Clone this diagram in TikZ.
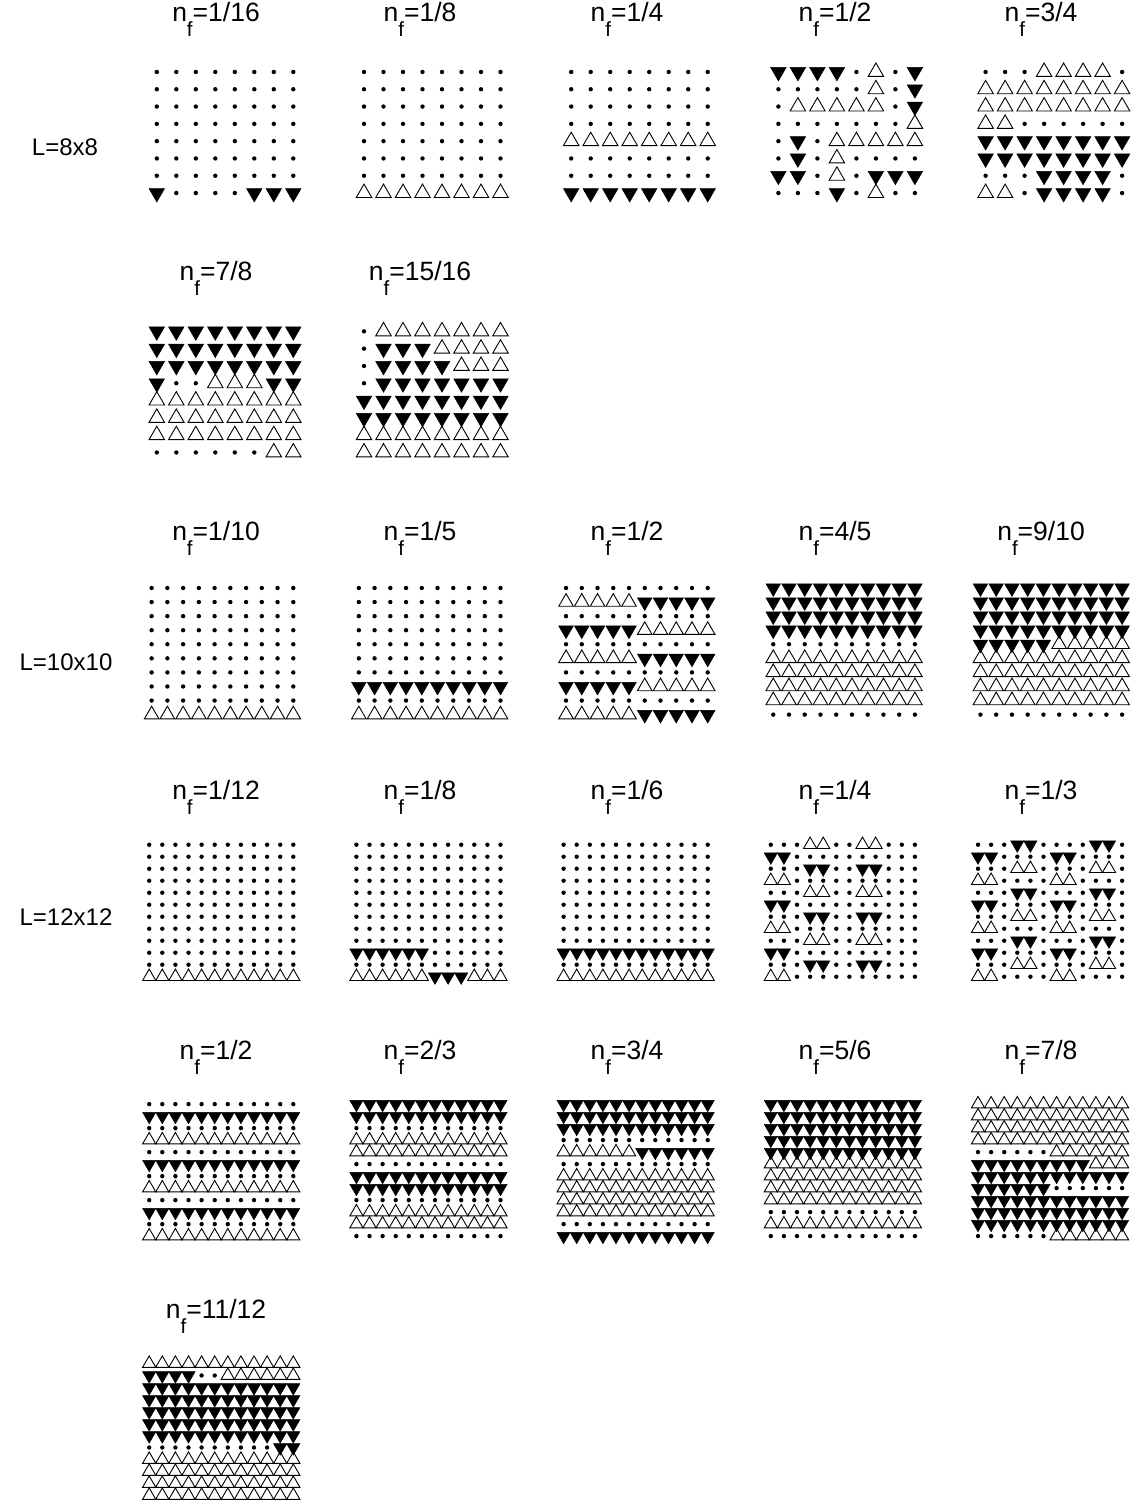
\documentclass[tikz,border=0pt]{standalone}
\usepackage{fontspec}
\setmainfont{Liberation Sans}
\makeatletter
\newcount\gpcol
\newcount\gprow
\def\gpX{0}\def\gpY{0}\def\gpdx{0}\def\gpdy{0}
\def\gp@loop#1{\ifx#1\relax\else\gp@sym#1\global\advance\gpcol by 1 \expandafter\gp@loop\fi}
\def\gp@sym#1{%
  \pgfmathsetmacro\gpx{\gpX+\the\gpcol*\gpdx}%
  \pgfmathsetmacro\gpy{\gpY+\the\gprow*\gpdy}%
  \csname gpsym#1\endcsname}
\expandafter\def\csname gpsymo\endcsname{\fill[symo] (\gpx,\gpy) circle (2.2pt);}
\expandafter\def\csname gpsymv\endcsname{\filldraw[symv] (\gpx,\gpy) ++(-\gph,-\gpt) -- ++(2*\gph,0) -- ++(-\gph,\gpa) -- cycle;}
\expandafter\def\csname gpsyma\endcsname{\draw[syma] (\gpx,\gpy) ++(-\gph,\gpt) -- ++(2*\gph,0) -- ++(-\gph,-\gpa) -- cycle;}
\newcommand\gridrow[1]{\global\gpcol=0 \gp@loop#1\relax\global\advance\gprow by 1 }
% #1 right x, #2 centre y, #3 L, #4 dx, #5 dy, #6 triangle width, #7 rows
\newcommand\lattice[7]{%
  \pgfmathsetmacro\gpX{#1-(#3-1)*#4}%
  \pgfmathsetmacro\gpY{#2-(#3-1)*#5/2}%
  \def\gpdx{#4}\def\gpdy{#5}%
  \pgfmathsetmacro\gph{#6/2}%
  \pgfmathsetmacro\gpt{#6*0.2887}%
  \pgfmathsetmacro\gpa{#6*0.866}%
  \global\gprow=0
  \foreach \r in {#7} {\expandafter\gridrow\expandafter{\r}}%
}
\makeatother
\newcommand\nf[1]{n\raisebox{-15pt}{\fontsize{20.5}{21}\selectfont f}=#1}
\tikzset{
  symo/.style={black},
  symv/.style={fill=black, draw=black, line width=0.5pt},
  syma/.style={draw=black, line width=0.9pt},
  lab/.style={font=\fontsize{26.5}{30}\selectfont, anchor=base, inner sep=0pt},
  llab/.style={font=\fontsize{24}{28}\selectfont, anchor=center, inner sep=0pt}
}
\begin{document}
\begin{tikzpicture}[x=1pt,y=-1pt]
\fill[white] (0,0) rectangle (1135,1505);
\useasboundingbox (0,0) rectangle (1135,1505);
% row labels
\node[llab] (L8) at (65,147) {L=8x8};
\node[llab] (L10) at (66,662) {L=10x10};
\node[llab] (L12) at (66,917) {L=12x12};
% panel labels
\node[lab] (tA1) at (216,21.5) {\nf{1/16}};
\node[lab] (tA2) at (420,21.5) {\nf{1/8}};
\node[lab] (tA3) at (627,21.5) {\nf{1/4}};
\node[lab] (tA4) at (835,21.5) {\nf{1/2}};
\node[lab] (tA5) at (1041,21.5) {\nf{3/4}};
\node[lab] (tB1) at (216,280.9) {\nf{7/8}};
\node[lab] (tB2) at (420,280.9) {\nf{15/16}};
\node[lab] (tC1) at (216,540.3) {\nf{1/10}};
\node[lab] (tC2) at (420,540.3) {\nf{1/5}};
\node[lab] (tC3) at (627,540.3) {\nf{1/2}};
\node[lab] (tC4) at (835,540.3) {\nf{4/5}};
\node[lab] (tC5) at (1041,540.3) {\nf{9/10}};
\node[lab] (tD1) at (216,799.7) {\nf{1/12}};
\node[lab] (tD2) at (420,799.7) {\nf{1/8}};
\node[lab] (tD3) at (627,799.7) {\nf{1/6}};
\node[lab] (tD4) at (835,799.7) {\nf{1/4}};
\node[lab] (tD5) at (1041,799.7) {\nf{1/3}};
\node[lab] (tE1) at (216,1059.1) {\nf{1/2}};
\node[lab] (tE2) at (420,1059.1) {\nf{2/3}};
\node[lab] (tE3) at (627,1059.1) {\nf{3/4}};
\node[lab] (tE4) at (835,1059.1) {\nf{5/6}};
\node[lab] (tE5) at (1041,1059.1) {\nf{7/8}};
\node[lab] (tF1) at (216,1318.5) {\nf{11/12}};
% ---------- L = 8x8 ----------
\lattice{293.3}{132.5}{8}{19.5}{17.3}{15.5}{oooooooo,oooooooo,oooooooo,oooooooo,oooooooo,oooooooo,oooooooo,voooovvv}
\lattice{500.5}{132.5}{8}{19.5}{17.3}{15.5}{oooooooo,oooooooo,oooooooo,oooooooo,oooooooo,oooooooo,oooooooo,aaaaaaaa}
\lattice{707.7}{132.5}{8}{19.5}{17.3}{15.5}{oooooooo,oooooooo,oooooooo,oooooooo,aaaaaaaa,oooooooo,oooooooo,vvvvvvvv}
\lattice{914.9}{132.5}{8}{19.5}{17.3}{15.5}{vvvvoaov,oooooaov,oaaaaaov,oooooooa,ovoaaaaa,ovoaoooo,vvoaovvv,ooovoaoo}
\lattice{1122.1}{132.5}{8}{19.5}{17.3}{15.5}{oooaaaao,aaaaaaaa,aaaaaaaa,aaoooooo,vvvvvvvv,vvvvvvvv,ooovvvvo,aaovvvvo}
\lattice{293.3}{391.9}{8}{19.5}{17.3}{15.5}{vvvvvvvv,vvvvvvvv,vvvvvvvv,vooaaavv,aaaaaaaa,aaaaaaaa,aaaaaaaa,ooooooaa}
\lattice{500.5}{391.9}{8}{19.5}{17.3}{15.5}{oaaaaaaa,ovvvaaaa,ovvvvaaa,ovvvvvvv,vvvvvvvv,vvvvvvvv,aaaaaaaa,aaaaaaaa}
% ---------- L = 10x10 ----------
\lattice{293.3}{651.3}{10}{15.74}{14.07}{14.6}{oooooooooo,oooooooooo,oooooooooo,oooooooooo,oooooooooo,oooooooooo,oooooooooo,oooooooooo,oooooooooo,aaaaaaaaaa}
\lattice{500.5}{651.3}{10}{15.74}{14.07}{14.6}{oooooooooo,oooooooooo,oooooooooo,oooooooooo,oooooooooo,oooooooooo,oooooooooo,vvvvvvvvvv,oooooooooo,aaaaaaaaaa}
\lattice{707.7}{651.3}{10}{15.74}{14.07}{14.6}{oooooooooo,aaaaavvvvv,oooooooooo,vvvvvaaaaa,oooooooooo,aaaaavvvvv,oooooooooo,vvvvvaaaaa,oooooooooo,aaaaavvvvv}
\lattice{914.9}{651.3}{10}{15.74}{14.07}{14.6}{vvvvvvvvvv,vvvvvvvvvv,vvvvvvvvvv,vvvvvvvvvv,oooooooooo,aaaaaaaaaa,aaaaaaaaaa,aaaaaaaaaa,aaaaaaaaaa,oooooooooo}
\lattice{1122.1}{651.3}{10}{15.74}{14.07}{14.6}{vvvvvvvvvv,vvvvvvvvvv,vvvvvvvvvv,vvvvvvvvvv,vvvvvaaaaa,aaaaaaaaaa,aaaaaaaaaa,aaaaaaaaaa,aaaaaaaaaa,oooooooooo}
% ---------- L = 12x12 ----------
\lattice{293.3}{910.7}{12}{13.1}{12.0}{13.2}{oooooooooooo,oooooooooooo,oooooooooooo,oooooooooooo,oooooooooooo,oooooooooooo,oooooooooooo,oooooooooooo,oooooooooooo,oooooooooooo,oooooooooooo,aaaaaaaaaaaa}
\lattice{500.5}{910.7}{12}{13.1}{12.0}{13.2}{oooooooooooo,oooooooooooo,oooooooooooo,oooooooooooo,oooooooooooo,oooooooooooo,oooooooooooo,oooooooooooo,oooooooooooo,vvvvvvoooooo,oooooooooooo,aaaaaavvvaaa}
\lattice{707.7}{910.7}{12}{13.1}{12.0}{13.2}{oooooooooooo,oooooooooooo,oooooooooooo,oooooooooooo,oooooooooooo,oooooooooooo,oooooooooooo,oooooooooooo,oooooooooooo,vvvvvvvvvvvv,oooooooooooo,aaaaaaaaaaaa}
\lattice{914.9}{910.7}{12}{13.1}{12.0}{13.2}{oooaaooaaooo,vvoooooooooo,ooovvoovvooo,aaoooooooooo,oooaaooaaooo,vvoooooooooo,ooovvoovvooo,aaoooooooooo,oooaaooaaooo,vvoooooooooo,ooovvoovvooo,aaoooooooooo}
\lattice{1122.1}{910.7}{12}{13.1}{12.0}{13.2}{ooovvoooovvo,vvoooovvoooo,oooaaooooaao,aaooooaaoooo,ooovvoooovvo,vvoooovvoooo,oooaaooooaao,aaooooaaoooo,ooovvoooovvo,vvoooovvoooo,oooaaooooaao,aaooooaaoooo}
\lattice{293.3}{1170.1}{12}{13.1}{12.0}{13.2}{oooooooooooo,vvvvvvvvvvvv,oooooooooooo,aaaaaaaaaaaa,oooooooooooo,vvvvvvvvvvvv,oooooooooooo,aaaaaaaaaaaa,oooooooooooo,vvvvvvvvvvvv,oooooooooooo,aaaaaaaaaaaa}
\lattice{500.5}{1170.1}{12}{13.1}{12.0}{13.2}{vvvvvvvvvvvv,vvvvvvvvvvvv,oooooooooooo,aaaaaaaaaaaa,aaaaaaaaaaaa,oooooooooooo,vvvvvvvvvvvv,vvvvvvvvvvvv,oooooooooooo,aaaaaaaaaaaa,aaaaaaaaaaaa,oooooooooooo}
\lattice{707.7}{1170.1}{12}{13.1}{12.0}{13.2}{vvvvvvvvvvvv,vvvvvvvvvvvv,vvvvvvvvvvvv,oooooooooooo,aaaaaavvvvvv,oooooooooooo,aaaaaaaaaaaa,aaaaaaaaaaaa,aaaaaaaaaaaa,aaaaaaaaaaaa,oooooooooooo,vvvvvvvvvvvv}
\lattice{914.9}{1170.1}{12}{13.1}{12.0}{13.2}{vvvvvvvvvvvv,vvvvvvvvvvvv,vvvvvvvvvvvv,vvvvvvvvvvvv,vvvvvvvvvvvv,aaaaaaaaaaaa,aaaaaaaaaaaa,aaaaaaaaaaaa,aaaaaaaaaaaa,oooooooooooo,aaaaaaaaaaaa,oooooooooooo}
\lattice{1122.1}{1170.1}{12}{13.1}{12.0}{13.2}{aaaaaaaaaaaa,aaaaaaaaaaaa,aaaaaaaaaaaa,aaaaaaaaaaaa,ooooooaaaaaa,vvvvvvvvvaaa,vvvvvvvvvvvv,vvvvvvoooooo,vvvvvvvvvvvv,vvvvvvvvvvvv,vvvvvvvvvvvv,ooooooaaaaaa}
\lattice{293.3}{1429.5}{12}{13.1}{12.0}{13.2}{aaaaaaaaaaaa,vvvvooaaaaaa,vvvvvvvvvvvv,vvvvvvvvvvvv,vvvvvvvvvvvv,vvvvvvvvvvvv,vvvvvvvvvvvv,oooooooooovv,aaaaaaaaaaaa,aaaaaaaaaaaa,aaaaaaaaaaaa,aaaaaaaaaaaa}
\end{tikzpicture}
\end{document}
